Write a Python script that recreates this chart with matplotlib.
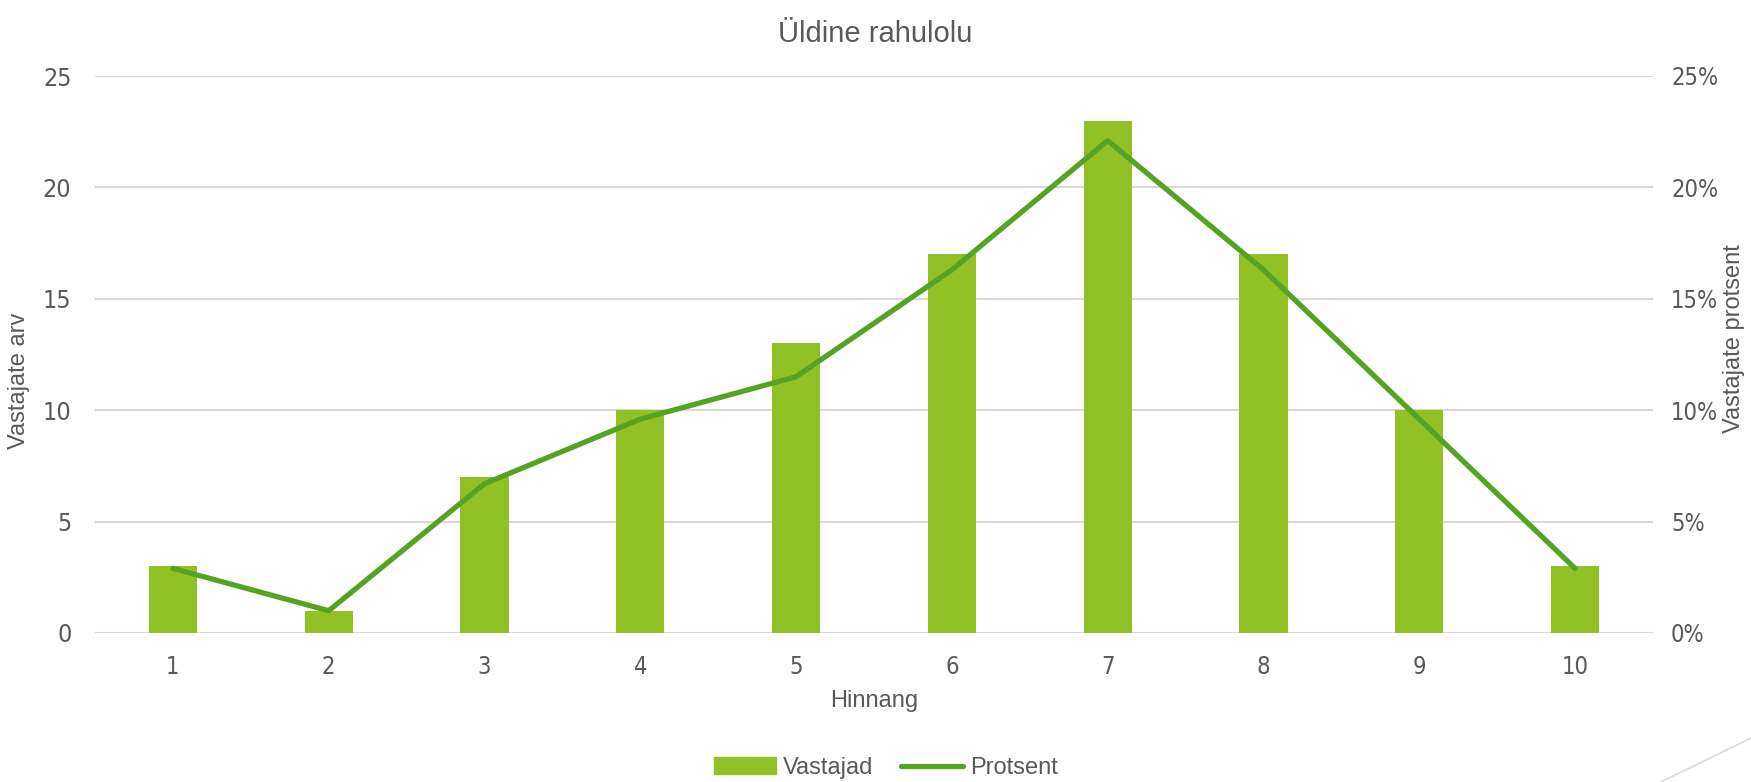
import matplotlib
matplotlib.use('Agg')
import matplotlib.pyplot as plt
from matplotlib.ticker import FuncFormatter
from matplotlib.lines import Line2D

# data
hinnang = [1, 2, 3, 4, 5, 6, 7, 8, 9, 10]
vastajad = [3, 1, 7, 10, 13, 17, 23, 17, 10, 3]
protsent = [2.9, 1.0, 6.7, 9.6, 11.5, 16.3, 22.1, 16.3, 9.6, 2.9]

bar_col = '#92C125'
line_col = '#56A324'
txt_col = '#595959'
grid_col = '#D9D9D9'

tick_font = ['DejaVu Sans']
lab_font = ['Liberation Sans', 'DejaVu Sans']

fig = plt.figure(figsize=(17.51, 7.82), dpi=100)
ax = fig.add_axes([95 / 1751, 1 - 633 / 782, 1558 / 1751, 557 / 782])
ax2 = ax.twinx()

ax.bar(hinnang, vastajad, width=0.31, color=bar_col, zorder=2, label='Vastajad')
ax2.plot(hinnang, protsent, color=line_col, lw=3.8, solid_capstyle='round',
         zorder=3, label='Protsent')

ax.set_xlim(0.5, 10.5)
ax.set_ylim(0, 25)
ax2.set_ylim(0, 25)
ax.set_yticks(range(0, 26, 5))
ax2.set_yticks(range(0, 26, 5))
ax.set_xticks(hinnang)
ax2.yaxis.set_major_formatter(FuncFormatter(lambda v, p: '{:.0f}%'.format(v)))

ax.grid(axis='y', color=grid_col, lw=1.5, zorder=0)
ax.set_axisbelow(True)
for a in (ax, ax2):
    for s in a.spines.values():
        s.set_visible(False)
    a.tick_params(length=0, colors=txt_col, labelsize=17)
    for lbl in a.get_xticklabels() + a.get_yticklabels():
        lbl.set_family(tick_font)
        lbl.set_fontstretch('condensed')
for lbl in ax.get_yticklabels():
    lbl.set_fontsize(18)
ax.tick_params(axis='x', pad=16)
ax.tick_params(axis='y', pad=17)
ax2.tick_params(axis='y', pad=13)

ax.set_xlabel('Hinnang', fontsize=17, color=txt_col, family=lab_font, labelpad=8)
ax.set_ylabel('Vastajate arv', fontsize=17, color=txt_col, family=lab_font,
              va='center')
ax2.set_ylabel('Vastajate protsent', fontsize=17, color=txt_col, family=lab_font,
               va='center')
ax.yaxis.set_label_coords(-0.049, 0.453)
ax2.yaxis.set_label_coords(1.052, 0.529)
fig.text(0.5, 1 - 34 / 782, 'Üldine rahulolu', ha='center', va='center',
         fontsize=21, color=txt_col, family=lab_font)

handles = [plt.Rectangle((0, 0), 1, 1, color=bar_col),
           Line2D([], [], color=line_col, lw=3.8, solid_capstyle='round')]
fig.legend(handles, ['Vastajad', 'Protsent'], loc='center',
           bbox_to_anchor=(0.506, 1 - 768 / 782), ncol=2, frameon=False,
           prop={'family': lab_font, 'size': 17}, labelcolor=txt_col,
           handlelength=2.6, handletextpad=0.3, columnspacing=1.2)

# slide decoration in the bottom-right corner
fig.add_artist(Line2D([1661 / 1751, 1.0], [0.0, 1 - 738 / 782],
                      transform=fig.transFigure, color=grid_col, lw=1.2))

fig.savefig('out.png', dpi=100)
